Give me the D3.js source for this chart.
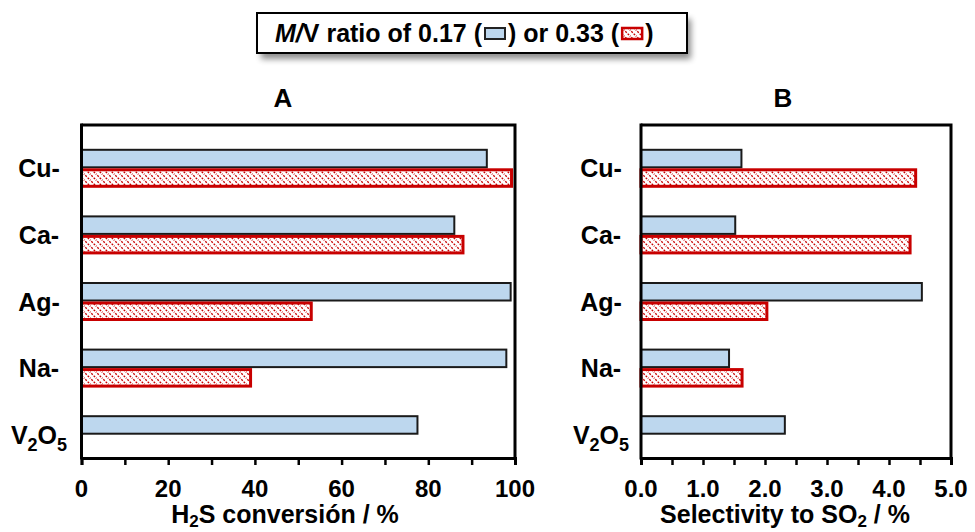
<!DOCTYPE html>
<html>
<head>
<meta charset="utf-8">
<script src="https://cdn.jsdelivr.net/npm/d3@7"></script>
<style>
body { margin: 0; background: #fff; }
text { font-family: "Liberation Sans", Arial, Helvetica, sans-serif; font-weight: bold; fill: #000; }
</style>
</head>
<body>
<div id="chart"></div>
<script>
// categories, top to bottom
var categories = ["Cu-", "Ca-", "Ag-", "Na-", "V2O5"];
var series = ["0.17", "0.33"];

// H2S conversion (%)
var convLow = [93.5, 86, 99, 98, 77.5];
var convHigh = [99.2, 88, 53, 39, null];

// selectivity to SO2 (%)
var selLow = [1.62, 1.52, 4.53, 1.42, 2.32];
var selHigh = [4.43, 4.34, 2.03, 1.63, null];

var ticksA = [0, 20, 40, 60, 80, 100];
var ticksB = [0, 1, 2, 3, 4, 5];

var width = 975, height = 532;
var blue = "#bdd7ee", red = "#c80000";

var svg = d3.select("#chart").append("svg")
    .attr("width", width)
    .attr("height", height);

var defs = svg.append("defs");
var pat = defs.append("pattern")
    .attr("id", "hatch")
    .attr("patternUnits", "userSpaceOnUse")
    .attr("width", 6)
    .attr("height", 6);
pat.append("rect").attr("width", 6).attr("height", 6).attr("fill", "#fff");
pat.append("path")
    .attr("d", "M-1,-1 L7,7 M-1,5 L1,7 M5,-1 L7,1")
    .attr("stroke", red)
    .attr("stroke-width", 1.3)
    .attr("stroke-dasharray", "2,1.3");

var filt = defs.append("filter").attr("id", "shadow")
    .attr("x", "-10%").attr("y", "-30%").attr("width", "120%").attr("height", "180%");
filt.append("feGaussianBlur").attr("in", "SourceAlpha").attr("stdDeviation", 3);
filt.append("feOffset").attr("dx", 4).attr("dy", 6).attr("result", "b");
filt.append("feComponentTransfer").append("feFuncA").attr("type", "linear").attr("slope", 0.45);

// legend
var lg = svg.append("g");
lg.append("rect").attr("x", 257).attr("y", 13).attr("width", 430).attr("height", 40)
    .attr("fill", "#000").attr("filter", "url(#shadow)");
lg.append("rect").attr("x", 257).attr("y", 13).attr("width", 430).attr("height", 40)
    .attr("fill", "#fff").attr("stroke", "#000").attr("stroke-width", 2);

function legendPiece(x, parts) {
    var t = lg.append("text").attr("x", x).attr("y", 42).style("font-size", "25px");
    parts.forEach(function (p) {
        t.append("tspan").style("font-style", p[1] ? "italic" : "normal").text(p[0]);
    });
    return x + t.node().getComputedTextLength();
}
var lx = legendPiece(275, [["M/", true], ["V ratio of 0.17 (", false]]);
lg.append("rect").attr("x", lx + 3).attr("y", 28).attr("width", 20).attr("height", 11)
    .attr("fill", blue).attr("stroke", "#222").attr("stroke-width", 2);
lx = legendPiece(lx + 26, [[") or 0.33 (", false]]);
lg.append("rect").attr("x", lx + 3).attr("y", 28).attr("width", 20).attr("height", 11)
    .attr("fill", "url(#hatch)").attr("stroke", red).attr("stroke-width", 2.5);
legendPiece(lx + 26, [[")", false]]);

function drawPanel(opts) {
    var top = 125, bottom = 458;
    var x = d3.scaleLinear().domain(opts.domain).range([opts.left, opts.right]);
    var y = d3.scaleBand().domain(categories).range([top + 10, bottom + 10]);
    var ySub = d3.scaleBand().domain(series).range([0, 38]).paddingInner(0.05);
    var g = svg.append("g");

    var rows = categories.map(function (c, i) {
        return { cat: c, vals: [opts.low[i], opts.high[i]] };
    });

    rows.forEach(function (r) {
        var y0 = y(r.cat) + y.bandwidth() / 2 - 19;
        r.vals.forEach(function (v, j) {
            if (v == null) return;
            var s = series[j];
            g.append("rect")
                .attr("x", x(0))
                .attr("y", y0 + ySub(s) + (j ? 1 : 0.5))
                .attr("width", x(v) - x(0))
                .attr("height", ySub.bandwidth() - (j ? 2 : 1))
                .attr("fill", j ? "url(#hatch)" : blue)
                .attr("stroke", j ? red : "#1a1a1a")
                .attr("stroke-width", j ? 3 : 2);
        });
    });

    // frame
    g.append("path")
        .attr("d", "M" + opts.left + "," + top + "H" + opts.right + "V" + bottom)
        .attr("fill", "none").attr("stroke", "#000").attr("stroke-width", 3);
    g.append("line").attr("x1", opts.left).attr("x2", opts.left)
        .attr("y1", top - 1.5).attr("y2", bottom + 1.5)
        .attr("stroke", "#000").attr("stroke-width", 3);

    // x axis
    var minor = d3.range(opts.domain[0], opts.domain[1] + opts.minor / 2, opts.minor);
    var ax = g.append("g").attr("transform", "translate(0," + bottom + ")")
        .call(d3.axisBottom(x).tickValues(minor).tickSize(7).tickFormat(""));
    ax.select(".domain").attr("stroke-width", 3);
    ax.selectAll(".tick line").attr("stroke-width", 2.5);
    ax.selectAll(".tick text").remove();

    g.selectAll(".ticklabel").data(opts.ticks).enter().append("text")
        .attr("x", function (d) { return x(d); })
        .attr("y", 497)
        .attr("text-anchor", "middle")
        .style("font-size", "24px")
        .text(opts.fmt);

    // category labels
    rows.forEach(function (r) {
        var t = g.append("text")
            .attr("x", opts.labelX)
            .attr("y", y(r.cat) + y.bandwidth() / 2 + 9)
            .attr("text-anchor", "middle")
            .style("font-size", "25px");
        if (r.cat === "V2O5") {
            t.append("tspan").text("V");
            t.append("tspan").attr("dy", 7).style("font-size", "18px").text("2");
            t.append("tspan").attr("dy", -7).text("O");
            t.append("tspan").attr("dy", 7).style("font-size", "18px").text("5");
        } else {
            t.text(r.cat);
        }
    });

    // panel letter
    g.append("text").attr("x", opts.letterX).attr("y", 107)
        .attr("text-anchor", "middle").style("font-size", "26px").text(opts.letter);

    // axis title
    var at = g.append("text").attr("x", opts.titleX).attr("y", 523)
        .attr("text-anchor", "middle").style("font-size", "25px");
    opts.title.forEach(function (p) {
        var ts = at.append("tspan").text(p[0]);
        if (p[1]) ts.attr("dy", p[1]).style("font-size", p[2] || null);
    });
}

drawPanel({
    left: 81.5, right: 515, domain: [0, 100], minor: 10,
    low: convLow, high: convHigh, ticks: ticksA,
    fmt: function (d) { return d; },
    letter: "A", letterX: 283, titleX: 285, labelX: 39,
    title: [["H"], ["2", 4, "17px"], ["S conversión / %", -4, "25px"]]
});

drawPanel({
    left: 641, right: 951, domain: [0, 5], minor: 0.5,
    low: selLow, high: selHigh, ticks: ticksB,
    fmt: d3.format(".1f"),
    letter: "B", letterX: 783, titleX: 785, labelX: 601,
    title: [["Selectivity to SO"], ["2", 4, "17px"], [" / %", -4, "25px"]]
});
</script>
</body>
</html>
